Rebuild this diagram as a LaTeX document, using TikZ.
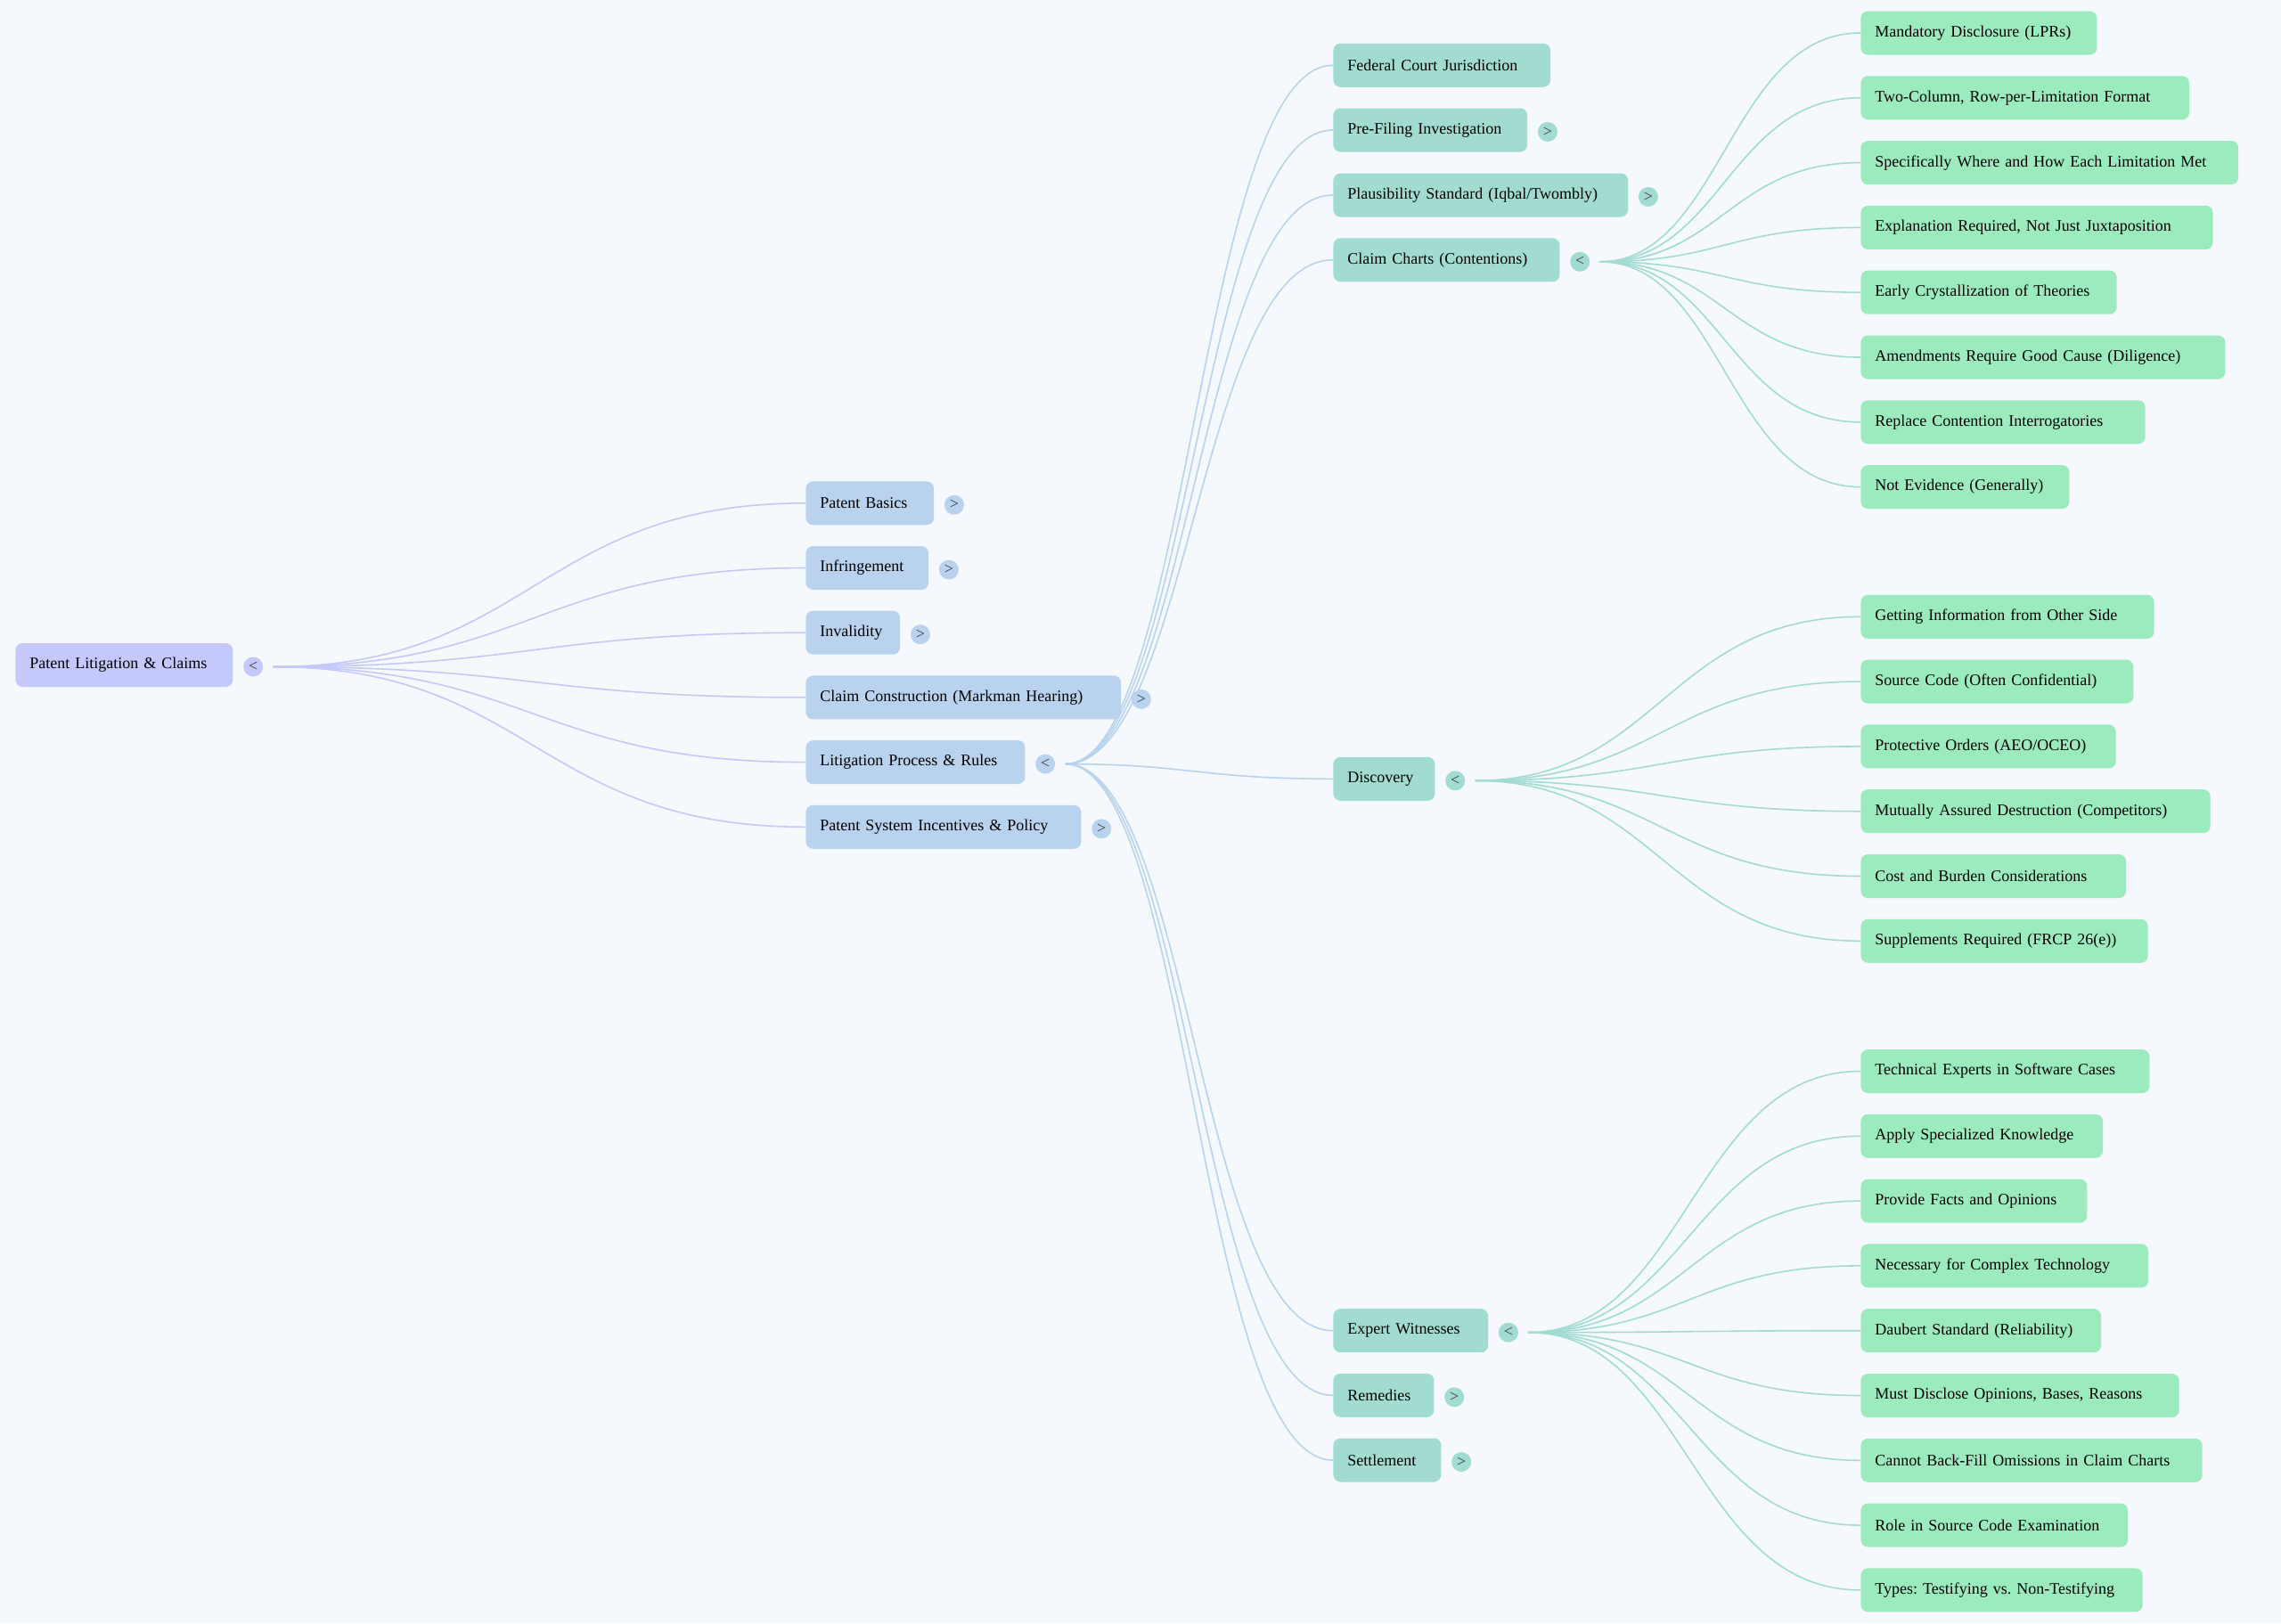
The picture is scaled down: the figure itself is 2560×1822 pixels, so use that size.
\documentclass[tikz,border=0pt]{standalone}
\usepackage{fontspec}
\setmainfont{Liberation Serif}
\usetikzlibrary{positioning}

\definecolor{pagebg}{HTML}{F5F8FD}
\definecolor{rootcol}{HTML}{C4C8FA}
\definecolor{onecol}{HTML}{B9D3EE}
\definecolor{twocol}{HTML}{A2DCD0}
\definecolor{leafcol}{HTML}{9BEBBE}
\definecolor{marktext}{HTML}{3A3A3A}

\tikzset{
        topic/.style={anchor=west, rounded corners=4pt, minimum height=24.5pt, inner xsep=8pt, inner ysep=0pt,
                align=left, font=\fontsize{9pt}{11pt}\selectfont\frenchspacing, text=black},
        wd/.style={text width=#1pt},
        rootbox/.style={topic, fill=rootcol},
        onebox/.style={topic, fill=onecol},
        twobox/.style={topic, fill=twocol},
        leafbox/.style={topic, fill=leafcol},
        fold/.style={circle, inner sep=0pt, minimum size=11pt, font=\fontsize{9pt}{9pt}\selectfont, text=marktext, yshift=-1pt},
        link/.style={line width=0.8pt, shorten <=5.5pt},
}

\begin{document}
\begin{tikzpicture}[x=0.5pt,y=-0.5pt]
                        \fill[pagebg] (0,0) rectangle (2560,1822);
                        \useasboundingbox (0,0) rectangle (2560,1822);

                        \node[rootbox, wd=106] (root) at (17,746.5) {Patent Litigation \& Claims};
                        \node[fold, fill=rootcol, right=5.5pt of root] (root-f) {<};

                        \node[onebox, wd=55.85] (basics) at (904,564.8) {Patent Basics};
                        \node[onebox, wd=52.85] (infr) at (904,637.5) {Infringement};
                        \node[onebox, wd=36.85] (inval) at (904,710.2) {Invalidity};
                        \node[onebox, wd=160.85] (markman) at (904,782.9) {Claim Construction (Markman Hearing)};
                        \node[onebox, wd=107] (lit) at (904,855.6) {Litigation Process \& Rules};
                        \node[onebox, wd=138.5] (policy) at (904,928.3) {Patent System Incentives \& Policy};
                        \node[fold, fill=onecol, right=5.5pt of basics] (basics-f) {>};
                        \node[fold, fill=onecol, right=5.5pt of infr] (infr-f) {>};
                        \node[fold, fill=onecol, right=5.5pt of inval] (inval-f) {>};
                        \node[fold, fill=onecol, right=5.5pt of markman] (markman-f) {>};
                        \node[fold, fill=onecol, right=5.5pt of lit] (lit-f) {<};
                        \node[fold, fill=onecol, right=5.5pt of policy] (policy-f) {>};

                        \node[twobox, wd=105.85] (court) at (1496,73.3) {Federal Court Jurisdiction};
                        \node[twobox, wd=92.85] (prefile) at (1496,146) {Pre-Filing Investigation};
                        \node[twobox, wd=149.35] (plaus) at (1496,219) {Plausibility Standard (Iqbal/Twombly)};
                        \node[twobox, wd=111] (charts) at (1496,291.8) {Claim Charts (Contentions)};
                        \node[twobox, wd=41] (disc) at (1496,874.3) {Discovery};
                        \node[twobox, wd=70.85] (expert) at (1496,1493.7) {Expert Witnesses};
                        \node[twobox, wd=40.5] (remed) at (1496,1566.3) {Remedies};
                        \node[twobox, wd=44.5] (settle) at (1496,1639) {Settlement};
                        \node[fold, fill=twocol, right=5.5pt of prefile] (prefile-f) {>};
                        \node[fold, fill=twocol, right=5.5pt of plaus] (plaus-f) {>};
                        \node[fold, fill=twocol, right=5.5pt of charts] (charts-f) {<};
                        \node[fold, fill=twocol, right=5.5pt of disc] (disc-f) {<};
                        \node[fold, fill=twocol, right=5.5pt of expert] (expert-f) {<};
                        \node[fold, fill=twocol, right=5.5pt of remed] (remed-f) {>};
                        \node[fold, fill=twocol, right=5.5pt of settle] (settle-f) {>};

                        \node[leafbox, wd=116.5] (cc1) at (2088,37) {Mandatory Disclosure (LPRs)};
                        \node[leafbox, wd=168.3] (cc2) at (2088,109.8) {Two-Column, Row-per-Limitation Format};
                        \node[leafbox, wd=195.85] (cc3) at (2088,182.6) {Specifically Where and How Each Limitation Met};
                        \node[leafbox, wd=181.6] (cc4) at (2088,255.4) {Explanation Required, Not Just Juxtaposition};
                        \node[leafbox, wd=127.65] (cc5) at (2088,328.2) {Early Crystallization of Theories};
                        \node[leafbox, wd=188.5] (cc6) at (2088,401) {Amendments Require Good Cause (Diligence)};
                        \node[leafbox, wd=143.65] (cc7) at (2088,473.8) {Replace Contention Interrogatories};
                        \node[leafbox, wd=101] (cc8) at (2088,546.6) {Not Evidence (Generally)};

                        \node[leafbox, wd=148.65] (dv1) at (2088,692.3) {Getting Information from Other Side};
                        \node[leafbox, wd=137] (dv2) at (2088,765.1) {Source Code (Often Confidential)};
                        \node[leafbox, wd=127.15] (dv3) at (2088,837.9) {Protective Orders (AEO/OCEO)};
                        \node[leafbox, wd=180.15] (dv4) at (2088,910.7) {Mutually Assured Destruction (Competitors)};
                        \node[leafbox, wd=132.85] (dv5) at (2088,983.5) {Cost and Burden Considerations};
                        \node[leafbox, wd=145.15] (dv6) at (2088,1056.3) {Supplements Required (FRCP 26(e))};

                        \node[leafbox, wd=146] (ew1) at (2088,1202.5) {Technical Experts in Software Cases};
                        \node[leafbox, wd=119.85] (ew2) at (2088,1275.3) {Apply Specialized Knowledge};
                        \node[leafbox, wd=111] (ew3) at (2088,1348.1) {Provide Facts and Opinions};
                        \node[leafbox, wd=145.35] (ew4) at (2088,1420.9) {Necessary for Complex Technology};
                        \node[leafbox, wd=118.85] (ew5) at (2088,1493.7) {Daubert Standard (Reliability)};
                        \node[leafbox, wd=162.65] (ew6) at (2088,1566.5) {Must Disclose Opinions, Bases, Reasons};
                        \node[leafbox, wd=175.65] (ew7) at (2088,1639.3) {Cannot Back-Fill Omissions in Claim Charts};
                        \node[leafbox, wd=133.85] (ew8) at (2088,1712.1) {Role in Source Code Examination};
                        \node[leafbox, wd=142.15] (ew9) at (2088,1784.9) {Types: Testifying vs. Non-Testifying};

                        \draw[link, rootcol] (root-f.east) .. controls +(300,0) and +(-300,0) .. (basics.west);
                        \draw[link, rootcol] (root-f.east) .. controls +(300,0) and +(-300,0) .. (infr.west);
                        \draw[link, rootcol] (root-f.east) .. controls +(300,0) and +(-300,0) .. (inval.west);
                        \draw[link, rootcol] (root-f.east) .. controls +(300,0) and +(-300,0) .. (markman.west);
                        \draw[link, rootcol] (root-f.east) .. controls +(300,0) and +(-300,0) .. (lit.west);
                        \draw[link, rootcol] (root-f.east) .. controls +(300,0) and +(-300,0) .. (policy.west);

                        \draw[link, onecol] (lit-f.east) .. controls +(150,0) and +(-150,0) .. (court.west);
                        \draw[link, onecol] (lit-f.east) .. controls +(150,0) and +(-150,0) .. (prefile.west);
                        \draw[link, onecol] (lit-f.east) .. controls +(150,0) and +(-150,0) .. (plaus.west);
                        \draw[link, onecol] (lit-f.east) .. controls +(150,0) and +(-150,0) .. (charts.west);
                        \draw[link, onecol] (lit-f.east) .. controls +(150,0) and +(-150,0) .. (disc.west);
                        \draw[link, onecol] (lit-f.east) .. controls +(150,0) and +(-150,0) .. (expert.west);
                        \draw[link, onecol] (lit-f.east) .. controls +(150,0) and +(-150,0) .. (remed.west);
                        \draw[link, onecol] (lit-f.east) .. controls +(150,0) and +(-150,0) .. (settle.west);

                        \draw[link, twocol] (charts-f.east) .. controls +(147,0) and +(-147,0) .. (cc1.west);
                        \draw[link, twocol] (charts-f.east) .. controls +(147,0) and +(-147,0) .. (cc2.west);
                        \draw[link, twocol] (charts-f.east) .. controls +(147,0) and +(-147,0) .. (cc3.west);
                        \draw[link, twocol] (charts-f.east) .. controls +(147,0) and +(-147,0) .. (cc4.west);
                        \draw[link, twocol] (charts-f.east) .. controls +(147,0) and +(-147,0) .. (cc5.west);
                        \draw[link, twocol] (charts-f.east) .. controls +(147,0) and +(-147,0) .. (cc6.west);
                        \draw[link, twocol] (charts-f.east) .. controls +(147,0) and +(-147,0) .. (cc7.west);
                        \draw[link, twocol] (charts-f.east) .. controls +(147,0) and +(-147,0) .. (cc8.west);

                        \draw[link, twocol] (disc-f.east) .. controls +(217,0) and +(-217,0) .. (dv1.west);
                        \draw[link, twocol] (disc-f.east) .. controls +(217,0) and +(-217,0) .. (dv2.west);
                        \draw[link, twocol] (disc-f.east) .. controls +(217,0) and +(-217,0) .. (dv3.west);
                        \draw[link, twocol] (disc-f.east) .. controls +(217,0) and +(-217,0) .. (dv4.west);
                        \draw[link, twocol] (disc-f.east) .. controls +(217,0) and +(-217,0) .. (dv5.west);
                        \draw[link, twocol] (disc-f.east) .. controls +(217,0) and +(-217,0) .. (dv6.west);

                        \draw[link, twocol] (expert-f.east) .. controls +(187,0) and +(-187,0) .. (ew1.west);
                        \draw[link, twocol] (expert-f.east) .. controls +(187,0) and +(-187,0) .. (ew2.west);
                        \draw[link, twocol] (expert-f.east) .. controls +(187,0) and +(-187,0) .. (ew3.west);
                        \draw[link, twocol] (expert-f.east) .. controls +(187,0) and +(-187,0) .. (ew4.west);
                        \draw[link, twocol] (expert-f.east) .. controls +(187,0) and +(-187,0) .. (ew5.west);
                        \draw[link, twocol] (expert-f.east) .. controls +(187,0) and +(-187,0) .. (ew6.west);
                        \draw[link, twocol] (expert-f.east) .. controls +(187,0) and +(-187,0) .. (ew7.west);
                        \draw[link, twocol] (expert-f.east) .. controls +(187,0) and +(-187,0) .. (ew8.west);
                        \draw[link, twocol] (expert-f.east) .. controls +(187,0) and +(-187,0) .. (ew9.west);
                \end{tikzpicture}
\end{document}
